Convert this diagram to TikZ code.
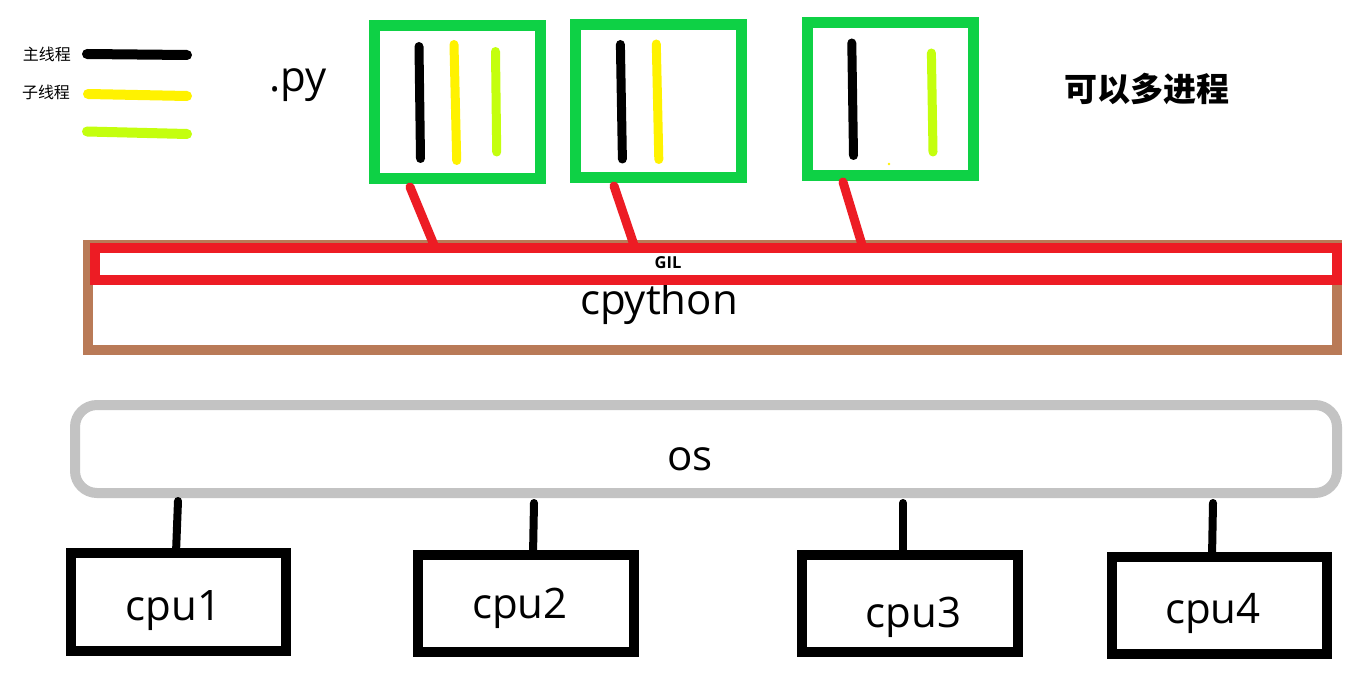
\documentclass[tikz,border=0pt]{standalone}
\usepackage{fontspec}
\newfontfamily\latinf{Open Sans}
\newfontfamily\cjk{Noto Sans CJK SC}
\definecolor{pgreen}{RGB}{14,209,69}
\definecolor{pred}{RGB}{237,28,36}
\definecolor{pbrown}{RGB}{185,122,87}
\definecolor{pgray}{RGB}{195,195,195}
\definecolor{pyellow}{RGB}{255,242,0}
\definecolor{plime}{RGB}{196,255,14}
\tikzset{
  bigtext/.style={inner sep=0pt, anchor=base, font=\latinf\fontsize{42}{50}\selectfont},
  legendtext/.style={inner sep=0pt, font=\cjk\fontsize{16}{19}\selectfont},
  procbox/.style={draw=pgreen, line width=11pt, minimum width=166pt, minimum height=153pt, inner sep=0pt},
  cpubox/.style={draw=black, line width=10pt, inner sep=0pt},
  thread/.style={line width=9pt, line cap=round},
  legline/.style={line width=10pt, line cap=round},
  gillink/.style={draw=pred, line width=9pt, line cap=round},
  oslink/.style={draw=black, line width=8pt, line cap=round},
}
\begin{document}
\begin{tikzpicture}[x=1pt,y=-1pt]
\useasboundingbox (0,0) rectangle (1350,679);
\fill[white] (0,0) rectangle (1350,679);

% legend
\node[legendtext] (l1) at (47,54) {主线程};
\node[legendtext] (l2) at (46,92) {子线程};
\coordinate (lb1) at (87,54);   \coordinate (lb2) at (187,55);
\coordinate (ly1) at (88,94);   \coordinate (ly2) at (187,96);
\coordinate (ll1) at (87,131.5);\coordinate (ll2) at (187,134);
\draw[legline, black] (lb1) -- (lb2);
\draw[legline, pyellow] (ly1) -- (ly2);
\draw[legline, plime] (ll1) -- (ll2);

\node[bigtext] (py) at (298,92) {.py};
\node[inner sep=0pt, font=\cjk\bfseries\fontsize{33}{40}\selectfont] (multi) at (1146.5,89) {可以多进程};

% process boxes
\node[procbox] (p1) at (457,102.3) {};
\node[procbox] (p2) at (658.8,101.5) {};
\node[procbox] (p3) at (890,99.5) {};

% threads
\coordinate (a1) at (419,46.5);   \coordinate (a2) at (420.5,158.5);
\coordinate (b1) at (454,44.5);   \coordinate (b2) at (456.7,160.5);
\coordinate (c1) at (495.5,51.5); \coordinate (c2) at (496.7,152);
\draw[thread, black] (a1) -- (a2);
\draw[thread, pyellow] (b1) -- (b2);
\draw[thread, plime] (c1) -- (c2);
\coordinate (d1) at (620.4,44.5); \coordinate (d2) at (622.4,159);
\coordinate (e1) at (656.3,44);   \coordinate (e2) at (658.8,159.5);
\draw[thread, black] (d1) -- (d2);
\draw[thread, pyellow] (e1) -- (e2);
\coordinate (f1) at (851.8,43);   \coordinate (f2) at (853.5,155.5);
\coordinate (h1) at (931.4,53);   \coordinate (h2) at (933,152);
\draw[thread, black] (f1) -- (f2);
\draw[thread, plime] (h1) -- (h2);
\fill[pyellow] (889,164) circle (1.3pt);

% cpython + GIL
\node[draw=pbrown, line width=10pt, minimum width=1249pt, minimum height=105pt, inner sep=0pt] (cpy) at (712.5,297.5) {};
\node[bigtext] (cpytext) at (659,315) {cpython};
\node[draw=pred, line width=10pt, minimum width=1242pt, minimum height=32.3pt, inner sep=0pt] (gil) at (716,263.85) {};
\node[inner sep=0pt, font=\latinf\bfseries\fontsize{16.5}{19}\selectfont] (giltext) at (668,263) {GIL};

% GIL links
\coordinate (t1) at (410,187); \coordinate (g1) at (434,245);
\coordinate (t2) at (614,186); \coordinate (g2) at (634,245);
\coordinate (t3) at (843,182); \coordinate (g3) at (863,248);
\draw[gillink] (t1) -- (g1);
\draw[gillink] (t2) -- (g2);
\draw[gillink] (t3) -- (g3);

% os
\node[draw=pgray, line width=10pt, rounded corners=22pt, minimum width=1262pt, minimum height=88pt, inner sep=0pt] (os) at (706,449) {};
\node[bigtext] (ostext) at (690,470) {os};

% cpus
\node[cpubox, minimum width=215pt, minimum height=98pt] (cpu1) at (178.5,602) {};
\node[cpubox, minimum width=216pt, minimum height=97pt] (cpu2) at (526,603.5) {};
\node[cpubox, minimum width=216pt, minimum height=97pt] (cpu3) at (910,603.5) {};
\node[cpubox, minimum width=215pt, minimum height=97pt] (cpu4) at (1219.5,605.5) {};
\node[bigtext] (cpu1t) at (173.5,620) {cpu1};
\node[bigtext] (cpu2t) at (520,618) {cpu2};
\node[bigtext] (cpu3t) at (913.5,627) {cpu3};
\node[bigtext] (cpu4t) at (1213,623) {cpu4};

% os-cpu links
\coordinate (o1) at (178,501);  \coordinate (k1) at (176,553);
\coordinate (o2) at (534,503);  \coordinate (k2) at (533,555);
\coordinate (o3) at (903,503);  \coordinate (k3) at (903,555);
\coordinate (o4) at (1213,503); \coordinate (k4) at (1212,557);
\draw[oslink] (o1) -- (k1);
\draw[oslink] (o2) -- (k2);
\draw[oslink] (o3) -- (k3);
\draw[oslink] (o4) -- (k4);
\end{tikzpicture}
\end{document}
